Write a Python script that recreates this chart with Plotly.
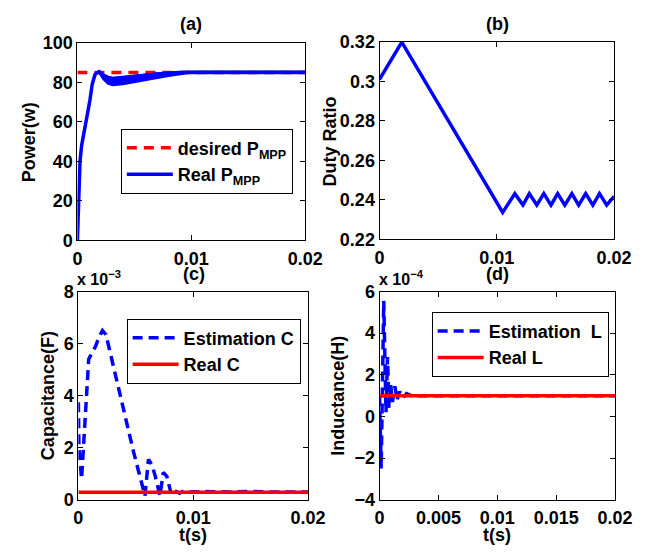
import plotly.graph_objects as go

W, H = 662, 558
FONT = "Liberation Sans"
BLUE = "rgb(0,0,255)"
RED = "rgb(255,0,0)"

# ---------------- data ----------------
# (a) power
t_desired = [0, 0.02]
p_desired = [85, 85]
t_p_rise = [0, 0.00004, 0.00008, 0.00015, 0.00023, 0.00037, 0.00056, 0.00085, 0.0011, 0.0013, 0.00155, 0.0019]
p_rise = [0, 10, 19, 31, 40, 48, 55, 63, 71, 79, 84, 85.4]
t_env = [0.0019, 0.0023, 0.0027, 0.0031, 0.004, 0.005, 0.006, 0.007, 0.008, 0.009, 0.0098, 0.02]
p_env_up = [85.4, 83.6, 82.4, 81.9, 82.4, 83.1, 83.8, 84.3, 84.7, 85.0, 85.1, 85.1]
p_env_lo = [85.4, 81.8, 79.6, 78.8, 79.3, 80.3, 81.4, 82.4, 83.4, 84.3, 84.9, 84.9]

# (b) duty ratio
t_duty = [0, 0.0019, 0.0105, 0.01154, 0.01223, 0.01277, 0.01341, 0.01401, 0.01462,
          0.01519, 0.0158, 0.0164, 0.01698, 0.01758, 0.01819, 0.01876, 0.01937, 0.02]
duty = [0.301, 0.3198, 0.2337, 0.2432, 0.2374, 0.2432, 0.2374, 0.2432, 0.2374,
        0.2432, 0.2374, 0.2432, 0.2374, 0.2432, 0.2374, 0.2432, 0.2374, 0.2418]

# (c) capacitance (units of 1e-3 F)
t_C = [0, 0.00005, 0.00028, 0.0005, 0.0007, 0.0009, 0.0012, 0.0015, 0.0018, 0.0021,
       0.0024, 0.0028, 0.0033, 0.0038, 0.0043, 0.0048, 0.0053, 0.0058, 0.0061, 0.0064,
       0.0067, 0.0071, 0.0074, 0.0077, 0.0081, 0.0084, 0.0088, 0.0092, 0.0096, 0.011,
       0.013, 0.015, 0.017, 0.02]
est_C = [3.75, 2.0, 0.8, 2.6, 4.3, 5.4, 5.65, 5.9, 6.25, 6.5,
         6.35, 5.6, 4.6, 3.6, 2.75, 1.85, 1.0, 0.15, 1.55, 1.35,
         0.9, 0.15, 1.05, 0.9, 0.2, 0.35, 0.25, 0.35, 0.3, 0.32,
         0.3, 0.32, 0.3, 0.3]
t_realC = [0, 0.02]
real_C = [0.29, 0.29]

# (d) inductance (units of 1e-4 H)
t_L = [0, 0.00014, 0.00036, 0.00055, 0.00068, 0.0008, 0.00095, 0.0011, 0.0013,
       0.0015, 0.0017, 0.002, 0.0023, 0.0027, 0.0035, 0.005, 0.01, 0.015, 0.02]
est_L = [1.0, -2.5, 5.55, 0.2, 2.85, 0.4, 1.5, 0.7, 1.45,
         0.8, 1.2, 0.9, 1.1, 1.0, 1.0, 1.0, 1.0, 1.0, 1.0]
t_realL = [0, 0.02]
real_L = [1.0, 1.0]

# tick labels
yb_ticks = [0.22, 0.24, 0.26, 0.28, 0.30, 0.32]
yb_labels = ["0.22", "0.24", "0.26", "0.28", "0.3", "0.32"]


def px_x(v):
    return v / W


def px_y(v):
    return 1 - v / H


FS = 18
tickfont = dict(family=FONT, size=FS, color="black", weight="bold")
txtfont = dict(family=FONT, size=FS, color="black", weight="bold")

ax_common = dict(showline=True, linecolor="black", linewidth=1, mirror="ticks",
                 ticks="inside", ticklen=5, tickwidth=1, tickcolor="black",
                 showgrid=False, zeroline=False, tickfont=tickfont)
xax_common = dict(ax_common, ticklabelstandoff=2)

fig = go.Figure()

# (a)
fig.add_trace(go.Scatter(x=t_desired, y=p_desired, mode="lines", name="desired P<sub>MPP</sub>",
                         line=dict(color=RED, width=3.5, dash="10px,7px"),
                         xaxis="x", yaxis="y", legend="legend"))
fig.add_trace(go.Scatter(x=t_env + t_env[::-1], y=p_env_up + p_env_lo[::-1], mode="lines",
                         fill="toself", fillcolor=BLUE, line=dict(color=BLUE, width=3),
                         showlegend=False, xaxis="x", yaxis="y", hoverinfo="skip"))
fig.add_trace(go.Scatter(x=t_p_rise + t_env, y=p_rise + p_env_up, mode="lines", name="Real P<sub>MPP</sub>",
                         line=dict(color=BLUE, width=3.5),
                         xaxis="x", yaxis="y", legend="legend"))

# (b)
fig.add_trace(go.Scatter(x=t_duty, y=duty, mode="lines", showlegend=False,
                         line=dict(color=BLUE, width=3.5), xaxis="x2", yaxis="y2"))

# (c)
fig.add_trace(go.Scatter(x=t_C, y=est_C, mode="lines", name="Estimation C",
                         line=dict(color=BLUE, width=3.5, dash="10px,6px"),
                         xaxis="x3", yaxis="y3", legend="legend2"))
fig.add_trace(go.Scatter(x=t_realC, y=real_C, mode="lines", name="Real C",
                         line=dict(color=RED, width=3.5),
                         xaxis="x3", yaxis="y3", legend="legend2"))

# (d)
fig.add_trace(go.Scatter(x=t_L, y=est_L, mode="lines", name="Estimation  L",
                         line=dict(color=BLUE, width=3.5, dash="10px,6px"),
                         xaxis="x4", yaxis="y4", legend="legend3"))
fig.add_trace(go.Scatter(x=t_realL, y=real_L, mode="lines", name="Real L",
                         line=dict(color=RED, width=3.5),
                         xaxis="x4", yaxis="y4", legend="legend3"))

legend_common = dict(font=txtfont, bgcolor="white", bordercolor="black", borderwidth=1,
                     xanchor="left", yanchor="top", itemwidth=46, tracegroupgap=0)

fig.update_layout(
    width=W, height=H, autosize=False,
    margin=dict(l=0, r=0, t=0, b=0),
    paper_bgcolor="white", plot_bgcolor="white",
    xaxis=dict(domain=[px_x(75), px_x(311)], range=[0, 0.02], dtick=0.01, anchor="y", **xax_common),
    yaxis=dict(domain=[px_y(239), px_y(34)], range=[0, 100], dtick=20, anchor="x", **ax_common),
    xaxis2=dict(domain=[px_x(388), px_x(631)], range=[0, 0.02], dtick=0.01, anchor="y2", **xax_common),
    yaxis2=dict(domain=[px_y(238), px_y(33)], range=[0.22, 0.32], tickvals=yb_ticks, ticktext=yb_labels,
                anchor="x2", **ax_common),
    xaxis3=dict(domain=[px_x(76), px_x(314)], range=[0, 0.02], dtick=0.01, anchor="y3", **xax_common),
    yaxis3=dict(domain=[px_y(508), px_y(292)], range=[0, 8], dtick=2, anchor="x3", **ax_common),
    xaxis4=dict(domain=[px_x(388), px_x(632)], range=[0, 0.02], dtick=0.005, anchor="y4", **xax_common),
    yaxis4=dict(domain=[px_y(508), px_y(292)], range=[-4, 6], dtick=2, anchor="x4", **ax_common),
    legend=dict(x=px_x(120), y=px_y(123), **legend_common),
    legend2=dict(x=px_x(126), y=px_y(320), **legend_common),
    legend3=dict(x=px_x(442), y=px_y(313), **legend_common),
)

# panel titles
for txt, x0, y0 in [("(a)", 193, 15), ("(b)", 510, 15), ("(c)", 196, 274), ("(d)", 510, 274)]:
    fig.add_annotation(xref="paper", yref="paper", showarrow=False, font=txtfont, text=txt,
                       x=px_x(x0), y=px_y(y0), xanchor="center", yanchor="middle")

# axis titles
for txt, x0, y0 in [("Power(w)", 25, 137), ("Duty Ratio", 337, 136),
                    ("Capacitance(F)", 44, 400), ("Inductance(H)", 345, 400)]:
    fig.add_annotation(xref="paper", yref="paper", showarrow=False, font=txtfont, text=txt,
                       textangle=-90, x=px_x(x0), y=px_y(y0), xanchor="center", yanchor="middle")
for x0 in [195, 510]:
    fig.add_annotation(xref="paper", yref="paper", showarrow=False, font=txtfont, text="t(s)",
                       x=px_x(x0), y=px_y(544), xanchor="center", yanchor="middle")

# exponent labels
for txt, x0 in [("x 10<sup>−3</sup>", 73), ("x 10<sup>−4</sup>", 385)]:
    fig.add_annotation(xref="paper", yref="paper", showarrow=False, text=txt,
                       font=dict(family=FONT, size=16, color="black", weight="bold"),
                       x=px_x(x0), y=px_y(290), xanchor="left", yanchor="bottom")

fig.write_html("out.html")
